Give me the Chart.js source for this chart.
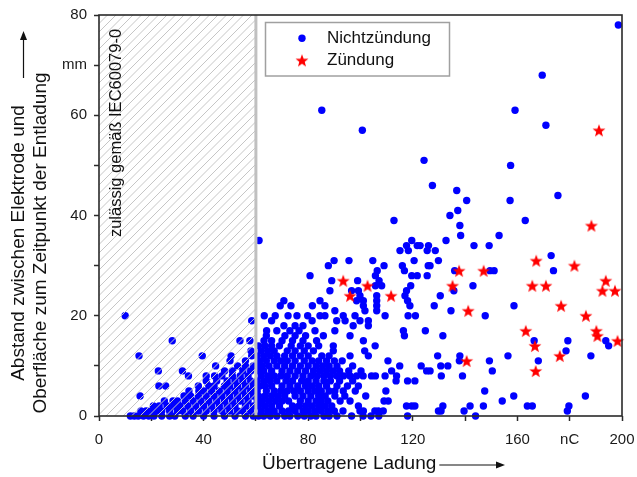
<!DOCTYPE html>
<html>
<head>
<meta charset="utf-8">
<script src="https://cdn.jsdelivr.net/npm/chart.js@4.4.1/dist/chart.umd.min.js"></script>
<style>
  html, body { margin: 0; padding: 0; background: #fff; }
  #wrap { width: 637px; height: 477px; }
</style>
</head>
<body>
<div id="wrap"><canvas id="chart" width="637" height="477"></canvas></div>
<script>
// Nichtzündung: for each distance (mm) the transferred charges (nC)
const noIgnitionRows = [
  [0, [12, 13.5, 15, 17, 19, 21, 24, 27, 29, 33, 36, 40, 44, 48, 52, 56, 59, 61, 63, 65.5, 68, 71, 73, 76, 78.5, 81, 83, 86, 88, 91, 96.6, 101, 104, 107, 118, 144]],
  [1, [16, 18, 20, 22, 24, 27, 30, 32, 35, 38, 41, 44, 47, 50, 53, 55, 58, 62, 64.5, 67, 70, 72.5, 75, 78, 80, 82.5, 85, 87.5, 90, 93.3, 99.8, 101.1, 105.5, 106.8, 108.7, 129.8, 130.8, 139.6, 179.1]],
  [2, [20.8, 23, 26, 28.5, 31, 34, 37, 40, 43, 46, 49, 52, 56, 59, 61, 63.5, 66, 69, 74, 76.5, 79, 81.5, 84, 86.5, 89, 99.2, 117.6, 119.6, 120.8, 131.5, 141.9, 147, 163.8, 165.7, 179.7]],
  [3, [25, 28.3, 30, 33, 36, 39, 42, 45, 48, 51, 54, 57, 60.5, 62.5, 65, 67.5, 70, 72.5, 77, 80, 83, 85, 87.5, 92.2, 96, 109, 110.6, 154.2]],
  [4, [15.7, 32.5, 35, 38, 41, 44, 47, 50, 53, 56, 59, 61, 63.5, 66, 68.5, 71, 75, 78, 81, 84, 86.5, 90.2, 94, 102, 158.6, 186]],
  [5, [34.4, 38.2, 40, 43, 46, 49, 52, 55, 58, 60.5, 64, 67, 69.5, 72, 74.5, 77, 80, 82.5, 85, 88, 90.2, 93.4, 98, 109.7, 147.5]],
  [6, [22.9, 25.5, 38, 42, 44, 48, 50, 53, 56, 59, 61.5, 63.5, 66, 70, 73, 76, 79, 81.5, 84, 87, 91, 95, 99.2]],
  [7, [41, 45, 49, 52, 55, 58, 60.5, 63, 65.5, 68, 71.5, 74, 77.5, 80, 83, 86, 88.5, 92, 97, 113.6, 118, 120.8]],
  [8, [34.2, 41, 44.2, 47, 51, 54, 57, 62, 64.5, 67, 69.5, 72, 75, 78, 81, 83.5, 86, 88.5, 91, 93.5, 96, 98.5, 101, 104.2, 105.7, 109.4, 113.8, 130.9, 139]],
  [9, [22.7, 31.9, 48, 51, 55, 58, 61, 63, 66, 70, 73, 76, 79, 82, 84.5, 87, 89.5, 92, 95.5, 100.2, 111.9, 125.3, 126.6, 150.4]],
  [10, [44.6, 53, 56, 59, 60.5, 62.5, 65, 68, 71, 74, 77, 80, 83, 85.5, 88, 91, 97, 115, 123.2, 130.7, 133.4]],
  [11, [50.1, 56, 61.5, 64, 67, 69.5, 72, 75, 78.5, 81.5, 84, 87, 90, 93, 110.5, 137.8, 149.3, 168]],
  [12, [15.3, 39.5, 50.5, 58.4, 60.5, 63, 65.5, 68, 71, 74, 77, 80, 85.2, 88, 96, 103, 129.5, 138, 156.4, 188.1]],
  [13, [58.1, 62, 64.5, 67, 72, 75, 78.5, 82, 89.6, 101.6, 178.6]],
  [14, [61, 63.5, 66, 69, 73.5, 77, 80, 84, 89.6, 105.6, 194.9]],
  [15, [28, 53.9, 57.7, 63.1, 66, 70, 74, 78, 83.2, 101.1, 166.4, 179.3, 193.8]],
  [16, [64, 71.1, 75, 79, 85.8, 96, 116.8, 131.5]],
  [17, [64.1, 68, 73, 76.5, 82.6, 90.2, 116.4, 124.8]],
  [18, [70.7, 75, 78, 97.2, 103]],
  [19, [58.4, 66, 81.5, 90.9, 94.1, 99.8, 103]],
  [20, [10, 63.2, 67.4, 72.3, 75.7, 79.8, 84.5, 86.4, 93.4, 97.9, 109.4, 118.2, 121, 147.7]],
  [21, [90.2, 101.7, 106.2, 134.6]],
  [22, [69.3, 73.4, 81.6, 86.4, 101.1, 106.2, 118.9, 128.2, 158.7]],
  [23, [70.7, 84.5, 98.5, 101.1, 106.2, 118]],
  [24, [99.8, 106.2, 117, 130.5]],
  [25, [88.3, 96.6, 99.2, 117.6, 135.7]],
  [26, [105.7, 108.1, 119.2, 143]],
  [27, [89, 98.9, 107.1]],
  [28, [80.7, 105.7, 119.6, 121.7, 125.5]],
  [29, [106.4, 116.8, 136, 149.5, 151.1, 173.8]],
  [30, [87.7, 109, 116, 125.9, 126.6]],
  [31, [89.9, 95.6, 104.7, 120.5, 129.8]],
  [32, [172.9]],
  [33, [115.1, 118.3, 125.5, 128.6]],
  [34, [117.6, 121.7, 122.8, 126, 143.4, 149.2]],
  [35, [61.2, 119.6, 132.7]],
  [36, [138.3, 153]],
  [38, [138]],
  [39, [112.8, 163]],
  [40, [134.2]],
  [41, [137.2]],
  [43, [140.6, 157.2]],
  [44, [175.5]],
  [45, [136.8]],
  [46, [127.5]],
  [50, [157.4]],
  [51, [124.3]],
  [57, [100.7]],
  [58, [170.9]],
  [61, [85.2, 159.1]],
  [68, [169.5]],
  [78, [198.6]]
];

// Zündung
const ignitionX = [93.4, 96, 102.7, 111.7, 135.2, 137.7, 141.2, 140.6, 147.1, 167.2, 165.7, 170.9, 163.2, 166.7, 167, 181.8, 176.7, 176.2, 186.2, 190.2, 190.6, 193.8, 192.5, 197.3, 198.3, 191.2, 188.3];
const ignitionY = [27, 24, 26, 24, 26, 29, 21, 11, 29, 31, 26, 26, 17, 14, 9, 30, 22, 12, 20, 17, 16, 27, 25, 25, 15, 57, 38];

const seriesNames = ['Nichtzündung', 'Zündung'];
const xTickLabels = { 0: '0', 40: '40', 80: '80', 120: '120', 160: '160', 180: 'nC', 200: '200' };
const yTickLabels = { 0: '0', 20: '20', 40: '40', 60: '60', 70: 'mm', 80: '80' };
const xTitle = 'Übertragene Ladung';
const yTitle = ['Abstand zwischen Elektrode und', 'Oberfläche zum Zeitpunkt der Entladung'];
const limitText = 'zulässig gemäß IEC60079-0';
const permittedLimit = 60;

const FONT = '"Liberation Sans", Arial, sans-serif';
const DOT_R = 3.7;

const noIgnitionPoints = noIgnitionRows.flatMap(([y, xs]) => xs.map(x => ({ x, y })));
const ignitionPoints = ignitionX.map((x, i) => ({ x, y: ignitionY[i] }));

function makeStar(r, color) {
  const c = document.createElement('canvas');
  const s = Math.ceil(r * 2 + 2);
  c.width = s; c.height = s;
  const g = c.getContext('2d');
  g.fillStyle = color;
  g.beginPath();
  for (let i = 0; i < 10; i++) {
    const a = -Math.PI / 2 + i * Math.PI / 5;
    const rr = i % 2 ? r * 0.42 : r;
    g.lineTo(s / 2 + rr * Math.cos(a), s / 2 + 0.7 + rr * Math.sin(a));
  }
  g.closePath();
  g.fill();
  return c;
}
const starImg = makeStar(6.8, '#ff0000');

// no automatic label padding, the plot box is placed by layout.padding
function noScalePadding(s) {
  s.paddingLeft = 0;
  s.paddingRight = 0;
  s.paddingTop = 0;
  s.paddingBottom = 0;
}

// hatch over the permitted zone, drawn on top of the dots like the original
const hatchPlugin = {
  id: 'hatch',
  afterDatasetsDraw(chart) {
    const { ctx, chartArea: a, scales: { x } } = chart;
    const xr = x.getPixelForValue(permittedLimit);
    const h = a.bottom - a.top;
    ctx.save();
    ctx.beginPath();
    ctx.rect(a.left, a.top, xr - a.left, h);
    ctx.clip();
    ctx.strokeStyle = '#c6c6c6';
    ctx.lineWidth = 1;
    for (let sx = a.left - h; sx < xr; sx += 8.5) {
      ctx.beginPath();
      ctx.moveTo(sx, a.bottom);
      ctx.lineTo(sx + h, a.top);
      ctx.stroke();
    }
    ctx.restore();

    ctx.save();
    ctx.strokeStyle = '#c0c0c0';
    ctx.lineWidth = 3;
    ctx.beginPath();
    ctx.moveTo(xr, a.top);
    ctx.lineTo(xr, a.bottom);
    ctx.stroke();

    ctx.fillStyle = '#111';
    ctx.font = '16.5px ' + FONT;
    ctx.textAlign = 'center';
    ctx.textBaseline = 'middle';
    ctx.translate(116, 133);
    ctx.rotate(-Math.PI / 2);
    ctx.fillText(limitText, 0, 0);
    ctx.restore();
  }
};

// frame, legend, axis titles with arrows
const decoPlugin = {
  id: 'deco',
  afterDraw(chart) {
    const { ctx, chartArea: a } = chart;
    ctx.save();
    ctx.strokeStyle = '#2a2a2a';
    ctx.lineWidth = 1.6;
    ctx.strokeRect(a.left, a.top, a.right - a.left, a.bottom - a.top);

    // legend
    ctx.fillStyle = '#fff';
    ctx.fillRect(265.5, 22.5, 184, 53.5);
    ctx.strokeStyle = '#a0a0a0';
    ctx.lineWidth = 1.5;
    ctx.strokeRect(265.5, 22.5, 184, 53.5);
    ctx.fillStyle = '#0000ff';
    ctx.beginPath();
    ctx.arc(302, 38.3, DOT_R, 0, Math.PI * 2);
    ctx.fill();
    ctx.drawImage(starImg, 302 - starImg.width / 2, 60.3 - starImg.height / 2);
    ctx.fillStyle = '#111';
    ctx.font = '17px ' + FONT;
    ctx.textAlign = 'left';
    ctx.textBaseline = 'middle';
    ctx.fillText(seriesNames[0], 327, 38.5);
    ctx.fillText(seriesNames[1], 327, 60.5);

    // x title + arrow
    ctx.font = '19px ' + FONT;
    ctx.fillText(xTitle, 262, 464);
    const w = ctx.measureText(xTitle).width;
    ctx.strokeStyle = '#111';
    ctx.lineWidth = 1.2;
    ctx.beginPath();
    ctx.moveTo(262 + w + 3, 465);
    ctx.lineTo(497, 465);
    ctx.stroke();
    ctx.beginPath();
    ctx.moveTo(505, 465);
    ctx.lineTo(496, 461.5);
    ctx.lineTo(496, 468.5);
    ctx.closePath();
    ctx.fill();

    // y arrow
    ctx.beginPath();
    ctx.moveTo(23.5, 78);
    ctx.lineTo(23.5, 40);
    ctx.stroke();
    ctx.beginPath();
    ctx.moveTo(23.5, 31);
    ctx.lineTo(20, 40);
    ctx.lineTo(27, 40);
    ctx.closePath();
    ctx.fill();

    // y title lines
    ctx.textAlign = 'center';
    [19, 41].forEach((px, i) => {
      ctx.save();
      ctx.translate(px, 243);
      ctx.rotate(-Math.PI / 2);
      ctx.fillText(yTitle[i], 0, 0);
      ctx.restore();
    });
    ctx.restore();
  }
};

const tickFont = { family: FONT, size: 15 };

new Chart(document.getElementById('chart'), {
  type: 'scatter',
  data: {
    datasets: [
      {
        label: seriesNames[1],
        data: ignitionPoints,
        pointStyle: starImg,
        clip: false
      },
      {
        label: seriesNames[0],
        data: noIgnitionPoints,
        pointStyle: 'circle',
        pointRadius: DOT_R,
        pointBorderWidth: 0,
        backgroundColor: '#0000ff',
        borderColor: '#0000ff',
        clip: false
      }
    ]
  },
  options: {
    responsive: false,
    animation: false,
    events: [],
    layout: { padding: { top: 15, right: 15, left: 0, bottom: 0 } },
    plugins: { legend: { display: false }, tooltip: { enabled: false } },
    scales: {
      x: {
        type: 'linear',
        min: 0,
        max: 200,
        afterFit: s => { s.height = 61; noScalePadding(s); },
        ticks: {
          stepSize: 20,
          autoSkip: false,
          maxRotation: 0,
          padding: 10,
          color: '#1a1a1a',
          font: tickFont,
          callback: v => xTickLabels[v] ?? ''
        },
        grid: { display: true, drawOnChartArea: false, drawTicks: true, tickLength: 5, tickColor: '#2a2a2a', tickWidth: 1.5 },
        border: { display: false }
      },
      y: {
        type: 'linear',
        min: 0,
        max: 80,
        afterFit: s => { s.width = 99; noScalePadding(s); },
        ticks: {
          stepSize: 10,
          autoSkip: false,
          padding: 7,
          color: '#1a1a1a',
          font: tickFont,
          callback: v => yTickLabels[v] ?? ''
        },
        grid: { display: true, drawOnChartArea: false, drawTicks: true, tickLength: 5, tickColor: '#2a2a2a', tickWidth: 1.5 },
        border: { display: false }
      }
    }
  },
  plugins: [hatchPlugin, decoPlugin]
});
</script>
</body>
</html>
